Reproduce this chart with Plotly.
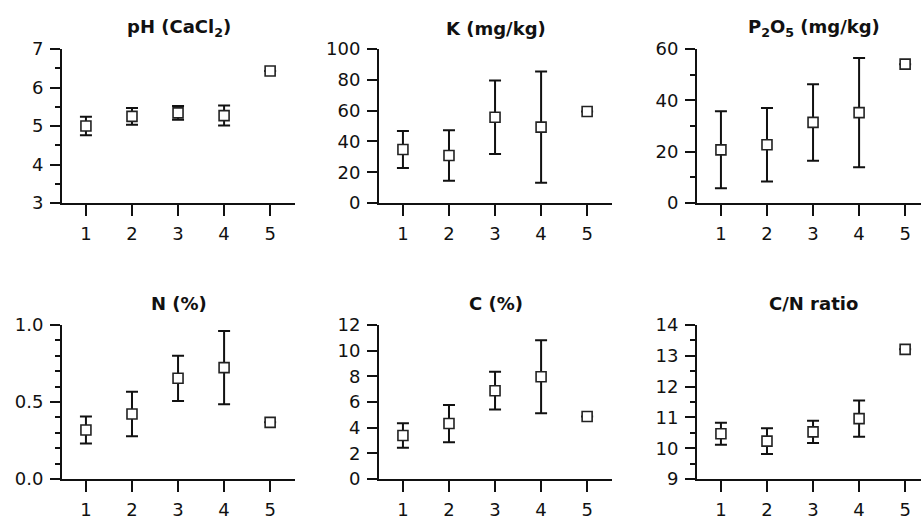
import plotly.graph_objects as go

# Sampling groups on the x axis
groups = [1, 2, 3, 4, 5]

# Means and standard deviations per soil parameter (group 5 is a single sample)
ph_mean = [5.00, 5.25, 5.34, 5.27, 6.43]
ph_sd = [0.24, 0.22, 0.18, 0.26, None]

k_mean = [34.7, 30.8, 55.7, 49.3, 59.4]
k_sd = [12.0, 16.4, 23.9, 36.1, None]

p2o5_mean = [20.7, 22.7, 31.4, 35.2, 54.1]
p2o5_sd = [15.0, 14.3, 14.9, 21.3, None]

n_mean = [0.318, 0.422, 0.654, 0.723, 0.368]
n_sd = [0.088, 0.145, 0.147, 0.238, None]

c_mean = [3.39, 4.32, 6.88, 7.97, 4.87]
c_sd = [0.95, 1.45, 1.47, 2.85, None]

cn_mean = [10.47, 10.23, 10.53, 10.96, 13.21]
cn_sd = [0.36, 0.42, 0.36, 0.59, None]

titles = ["pH (CaCl<sub>2</sub>)", "K (mg/kg)", "P<sub>2</sub>O<sub>5</sub> (mg/kg)",
          "N (%)", "C (%)", "C/N ratio"]

# y-axis settings: range, major step, minor step
y_ranges = [[3, 7], [0, 100], [0, 60], [0, 1.0], [0, 12], [9, 14]]
y_dticks = [1, 20, 20, 0.5, 2, 1]
y_minor = [0.5, None, 10, 0.1, None, 0.5]
y_formats = ["", "", "", ".1f", "", ""]

means = [ph_mean, k_mean, p2o5_mean, n_mean, c_mean, cn_mean]
sds = [ph_sd, k_sd, p2o5_sd, n_sd, c_sd, cn_sd]

W, H = 921, 519
FONT = "DejaVu Sans"
INK = "#111111"

# panel geometry in pixels
col_left = [62, 379, 697]
panel_w = 233
row_top = [49, 325]
panel_h = 154
x0, x1 = 0.48, 5.54
px_per_unit = panel_w / (x1 - x0)

fig = go.Figure()
annotations = []

for i in range(6):
    r, c = divmod(i, 3)
    n = i + 1
    xa = "x" if n == 1 else f"x{n}"
    ya = "y" if n == 1 else f"y{n}"
    left = col_left[c]
    right = min(left + panel_w, W)
    top = row_top[r]
    bottom = top + panel_h

    fig.add_trace(go.Scatter(
        x=groups, y=means[i], mode="markers",
        xaxis=xa, yaxis=ya, showlegend=False,
        marker=dict(symbol="square", size=10, color="white",
                    line=dict(color="#222222", width=1.6)),
        error_y=dict(type="data", array=sds[i], symmetric=True,
                     color=INK, thickness=2, width=6),
        cliponaxis=False,
    ))

    xr_end = x0 + (right - left) / px_per_unit
    fig.layout[f"xaxis{'' if n == 1 else n}"] = dict(
        domain=[left / W, right / W], anchor=ya, range=[x0, xr_end],
        tickmode="array", tickvals=groups, ticktext=[str(g) for g in groups],
        showline=True, linecolor=INK, linewidth=2,
        ticks="outside", ticklen=11, tickwidth=2, tickcolor=INK,
        ticklabelstandoff=2, automargin=False,
        showgrid=False, zeroline=False,
        tickfont=dict(family=FONT, size=18, color=INK),
        fixedrange=True,
    )
    yax = dict(
        domain=[1 - bottom / H, 1 - top / H], anchor=xa, range=y_ranges[i],
        dtick=y_dticks[i], tick0=y_ranges[i][0], tickformat=y_formats[i],
        showline=True, linecolor=INK, linewidth=2,
        ticks="outside", ticklen=10, tickwidth=2, tickcolor=INK,
        ticklabelstandoff=3, automargin=False,
        showgrid=False, zeroline=False,
        tickfont=dict(family=FONT, size=18, color=INK),
        fixedrange=True,
    )
    if y_minor[i]:
        yax["minor"] = dict(dtick=y_minor[i], tick0=y_ranges[i][0], ticks="outside",
                            ticklen=5, tickwidth=2, tickcolor=INK, showgrid=False)
    fig.layout[f"yaxis{'' if n == 1 else n}"] = yax

    title_y = 28 if r == 0 else 303
    annotations.append(dict(
        text=f"<b>{titles[i]}</b>", xref="paper", yref="paper",
        x=(left + panel_w / 2) / W, y=1 - title_y / H,
        xanchor="center", yanchor="middle", showarrow=False,
        font=dict(family=FONT, size=18, color=INK),
    ))

fig.update_layout(
    width=W, height=H,
    margin=dict(l=0, r=0, t=0, b=0, pad=0, autoexpand=False),
    paper_bgcolor="white", plot_bgcolor="white",
    annotations=annotations,
    font=dict(family=FONT, color=INK),
)

fig.write_html("out.html")
